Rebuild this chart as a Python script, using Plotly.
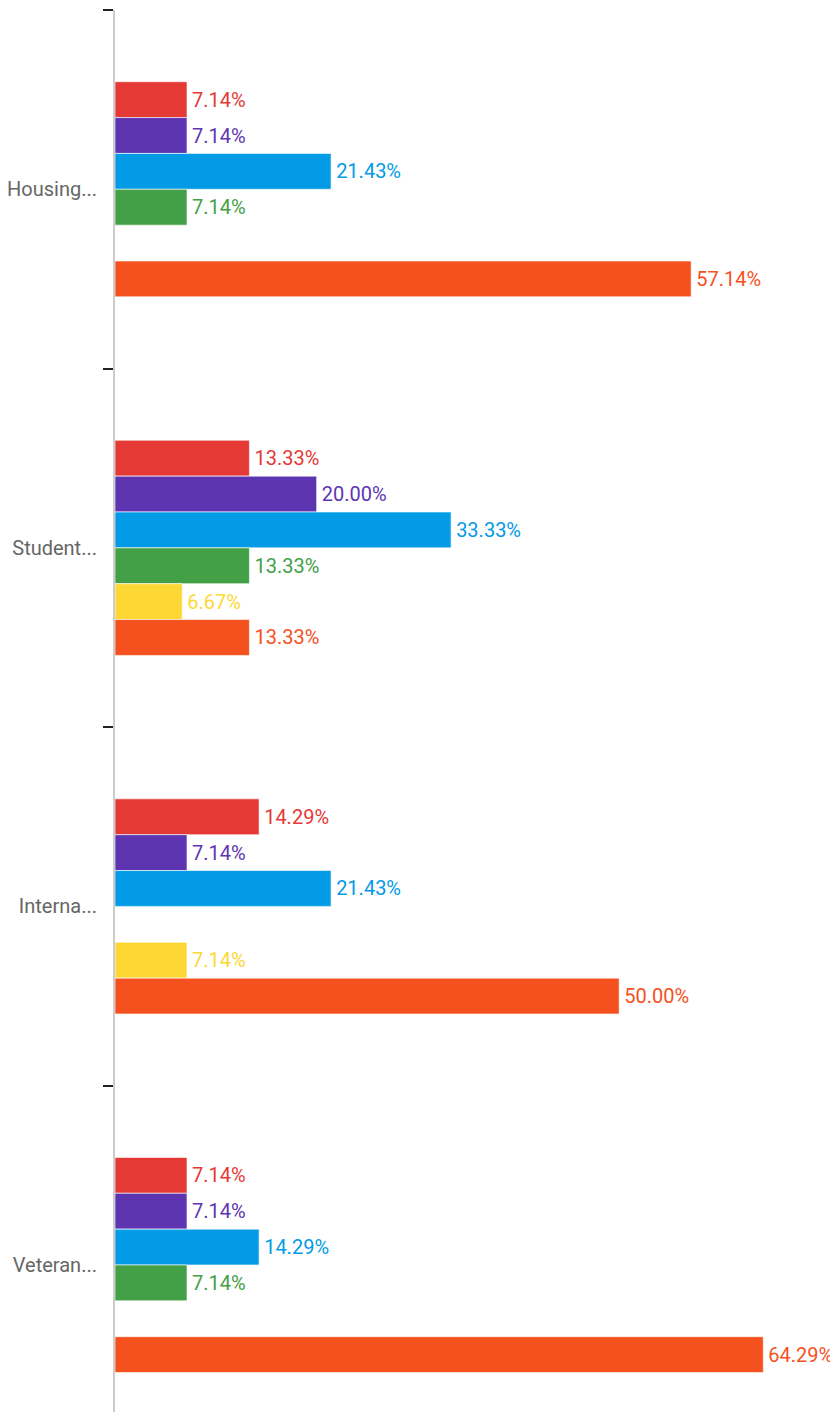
import plotly.graph_objects as go

categories = ["Housing...", "Student...", "Interna...", "Veteran..."]
series_names = ["Series 1", "Series 2", "Series 3", "Series 4", "Series 5", "Series 6"]
series_colors = ["#E53935", "#5E35B1", "#039BE5", "#43A047", "#FDD835", "#F4511E"]
values_s1 = [7.14, 13.33, 14.29, 7.14]
values_s2 = [7.14, 20.00, 7.14, 7.14]
values_s3 = [21.43, 33.33, 21.43, 14.29]
values_s4 = [7.14, 13.33, None, 7.14]
values_s5 = [None, 6.67, 7.14, None]
values_s6 = [57.14, 13.33, 50.00, 64.29]
all_values = [values_s1, values_s2, values_s3, values_s4, values_s5, values_s6]

FONT = "Roboto, DejaVu Sans Condensed, sans-serif"

fig = go.Figure()
for name, color, vals in zip(series_names, series_colors, all_values):
    fig.add_trace(go.Bar(
        name=name,
        y=categories,
        x=vals,
        orientation="h",
        marker=dict(color=color, line=dict(color="rgba(255,255,255,0.6)", width=1)),
        text=[f"\u200a{v:.2f}%" if v is not None else "" for v in vals],
        textposition="outside",
        textfont=dict(color=color, size=20, family=FONT),
        cliponaxis=False,
        hovertemplate="%{y}: %{x:.2f}%<extra>" + name + "</extra>",
    ))

fig.update_layout(
    width=830,
    height=1404,
    barmode="group",
    bargap=0.4,
    bargroupgap=0,
    showlegend=False,
    plot_bgcolor="white",
    paper_bgcolor="white",
    margin=dict(l=107, r=0, t=2, b=0, autoexpand=False),
    font=dict(family=FONT),
)
fig.update_xaxes(
    range=[0, 71.7],
    showticklabels=False,
    showgrid=False,
    zeroline=False,
    showline=False,
    ticks="",
)
fig.update_yaxes(
    type="category",
    categoryorder="array",
    categoryarray=categories,
    range=[3.41, -0.5],
    tickson="boundaries",
    ticks="outside",
    ticklen=10,
    tickwidth=2,
    tickcolor="#222222",
    showline=True,
    linecolor="#cccccc",
    linewidth=2,
    showgrid=False,
    ticklabelstandoff=12,
    automargin=False,
    tickfont=dict(size=20, color="#666666", family=FONT),
)

fig.write_html("out.html")
